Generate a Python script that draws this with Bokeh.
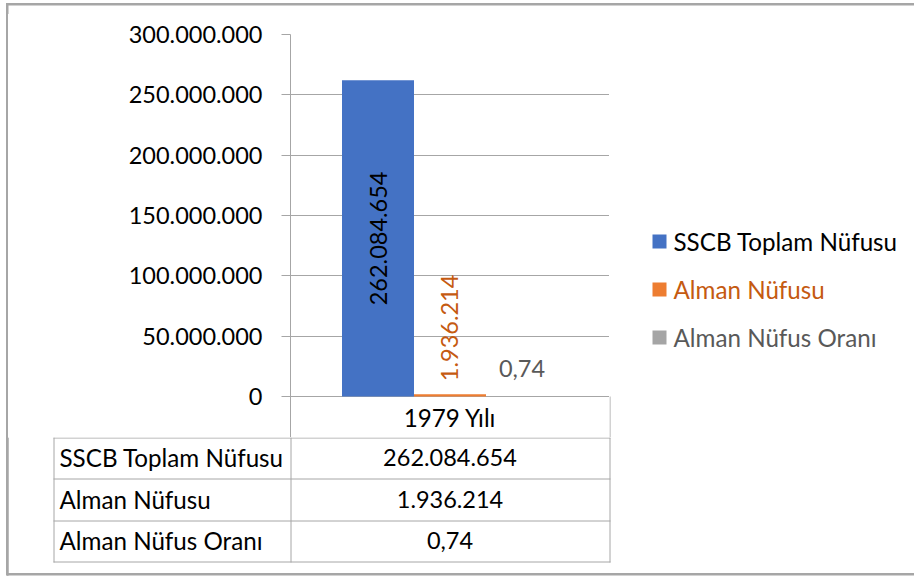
from bokeh.plotting import figure
from bokeh.layouts import column, row
from bokeh.models import (ColumnDataSource, FactorRange, Range1d, FixedTicker,
                          CustomJSTickFormatter, LabelSet)
from bokeh.core.properties import value
from bokeh.transform import dodge
from bokeh.embed import file_html
from bokeh.resources import INLINE
import math

# ---------------- data ----------------
categories = ["1979 Yılı"]
series_names = ["SSCB Toplam Nüfusu", "Alman Nüfusu", "Alman Nüfus Oranı"]
sscb_total = [262084654]
german_pop = [1936214]
german_ratio = [0.74]
y_ticks = [0, 50000000, 100000000, 150000000, 200000000, 250000000, 300000000]
y_max = 300000000

# ---------------- style ----------------
FONT = "Lato"
FS_NUM = "23.5px"
FS_TXT = "24.2px"
BAR_COLORS = ["#4472C4", "#ED7D31", "#A5A5A5"]
TEXT_COLORS = ["#000000", "#C55A11", "#595959"]
LINE = "#A6A6A6"
BORDER = "#A6A6A6"
BAR_W = 0.2257
OFFSETS = [-BAR_W, 0.0, BAR_W]

# page geometry (px)
PLOT_TOP, ZERO_Y, HEADER_BOTTOM = 34, 396, 437


def fmt_int(v):
    return f"{int(round(v)):,}".replace(",", ".")


def fmt_dec(v):
    return f"{v:.2f}".replace(".", ",")


series_values = [sscb_total, german_pop, german_ratio]
series_fmt = [fmt_int, fmt_int, fmt_dec]


def blank_fig(w, h, xr, yr, top_border=0):
    f = figure(width=w, height=h, x_range=Range1d(*xr), y_range=Range1d(*yr),
               title=None, output_backend="svg", toolbar_location=None,
               x_axis_location=None, y_axis_location=None,
               min_border_left=0, min_border_right=0,
               min_border_top=top_border, min_border_bottom=0)
    f.outline_line_color = None
    f.xgrid.visible = False
    f.ygrid.visible = False
    f.background_fill_color = "white"
    f.border_fill_color = "white"
    return f


# ---------------- chart (page x 0..609, y 14..437) ----------------
# the frame runs down through the category header row of the data table
y_start = -y_max * (HEADER_BOTTOM - ZERO_Y) / (ZERO_Y - PLOT_TOP)
p = figure(width=609, height=423,
           x_range=FactorRange(factors=categories),
           y_range=Range1d(y_start, y_max), title=None,
           output_backend="svg", toolbar_location=None, x_axis_location=None,
           min_border_left=290, min_border_right=0,
           min_border_top=20, min_border_bottom=0)
p.outline_line_color = None
p.background_fill_color = "white"
p.border_fill_color = "white"

p.yaxis.ticker = FixedTicker(ticks=y_ticks)
p.yaxis.formatter = CustomJSTickFormatter(
    code=r"return Math.round(tick).toString().replace(/\B(?=(\d{3})+(?!\d))/g, '.');")
p.yaxis.axis_line_color = LINE
p.yaxis.major_tick_line_color = LINE
p.yaxis.major_tick_out = 9
p.yaxis.major_tick_in = 0
p.yaxis.minor_tick_line_color = None
p.yaxis.major_label_text_font = FONT
p.yaxis.major_label_text_font_size = FS_NUM
p.yaxis.major_label_text_color = "#000000"
p.yaxis.major_label_standoff = 19

p.xgrid.visible = False
p.ygrid.grid_line_color = LINE
p.ygrid.ticker = FixedTicker(ticks=y_ticks)

for i, (name, vals, fmt) in enumerate(zip(series_names, series_values, series_fmt)):
    src = ColumnDataSource(dict(cat=categories, val=vals,
                                half=[v / 2 for v in vals],
                                label=[fmt(v) for v in vals]))
    p.vbar(x=dodge("cat", OFFSETS[i], range=p.x_range), top="val", width=BAR_W,
           source=src, fill_color=BAR_COLORS[i], line_color=None)
    common = dict(x=dodge("cat", OFFSETS[i], range=p.x_range), text="label", source=src,
                  text_font=value(FONT), text_font_size=FS_NUM, text_color=TEXT_COLORS[i])
    if i == 0:
        ls = LabelSet(y="half", angle=math.pi / 2, text_align="center",
                      text_baseline="middle", **common)
    elif i == 1:
        ls = LabelSet(y="val", angle=math.pi / 2, text_align="left", y_offset=13,
                      text_baseline="middle", **common)
    else:
        ls = LabelSet(y="val", text_align="center", y_offset=20,
                      text_baseline="alphabetic", **common)
    p.add_layout(ls)

# category header cell of the data table
p.text(x=categories, y=[y_start / 2], text=categories, text_align="center",
       text_baseline="middle", text_font=value(FONT), text_font_size=FS_TXT,
       text_color="#000000")

# ---------------- top strip (page y 0..14) ----------------
top = blank_fig(914, 14, (0, 914), (14, 0))
top.segment(x0=[7], y0=[4], x1=[914], y1=[4], line_color=BORDER, line_width=2)
top.segment(x0=[7], y0=[3], x1=[7], y1=[14], line_color=BORDER, line_width=2)

# ---------------- legend area (page x 609..914, frame y 34..437) ----------------
leg = blank_fig(305, 423, (609, 914), (437, 34), top_border=20)
legend_y = [241, 289, 337]
leg.rect(x=[659] * 3, y=legend_y, width=14, height=14, width_units="screen",
         height_units="screen", fill_color=BAR_COLORS, line_color=None)
leg.text(x=[673] * 3, y=legend_y, text=series_names, text_align="left",
         text_baseline="middle", text_font=value(FONT), text_font_size=FS_TXT,
         text_color=TEXT_COLORS)
# right edge of the header cell
leg.segment(x0=[609.5], y0=[ZERO_Y], x1=[609.5], y1=[437], line_color=LINE, line_width=1)

# ---------------- data table (page x 0..914, y 437..577) ----------------
tab = blank_fig(914, 140, (0, 914), (577, 437))
row_lines = [437.5, 478.5, 520.5, 561.5]
tab.segment(x0=[53] * 4, y0=row_lines, x1=[610] * 4, y1=row_lines, line_color=LINE, line_width=1)
tab.segment(x0=[53.5, 290.5, 609.5], y0=[437] * 3, x1=[53.5, 290.5, 609.5], y1=[562] * 3,
            line_color=LINE, line_width=1)
row_centers = [457, 498.5, 540]
tab.text(x=[59] * 3, y=row_centers, text=series_names, text_align="left",
         text_baseline="middle", text_font=value(FONT), text_font_size=FS_TXT,
         text_color="#000000")
tab.text(x=[449.5] * 3, y=row_centers,
         text=[fmt(v[0]) for v, fmt in zip(series_values, series_fmt)],
         text_align="center", text_baseline="middle", text_font=value(FONT),
         text_font_size=FS_NUM, text_color="#000000")
# outer border, lower-left part
tab.quad(left=[6], right=[8], top=[437], bottom=[575], fill_color=BORDER, line_color=None)
tab.segment(x0=[7], y0=[437], x1=[7], y1=[575], line_color=BORDER, line_width=2)
tab.segment(x0=[6], y0=[574], x1=[914], y1=[574], line_color=BORDER, line_width=2)

# outer chart border drawn over the whole layout (left, top and bottom edges)
border_css = (":host { position: relative; }"
              ":host::after { content: ''; position: absolute; left: 6px; top: 3px;"
              " width: 908px; height: 572px; box-sizing: border-box;"
              " border-left: 2px solid %s; border-top: 2px solid %s;"
              " border-bottom: 2px solid %s; pointer-events: none; z-index: 100; }"
              ) % (BORDER, BORDER, BORDER)

layout = column(top, row(p, leg), tab, stylesheets=[border_css])
open("out.html", "w").write(file_html(layout, INLINE))
